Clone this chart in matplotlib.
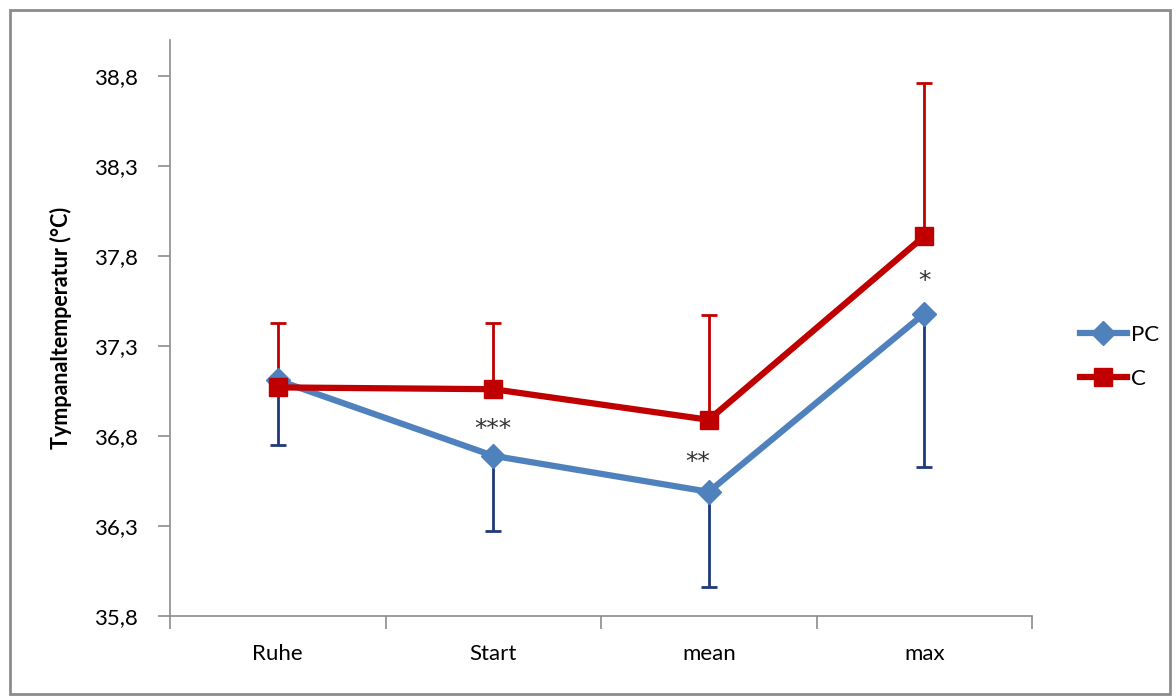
import matplotlib.pyplot as plt
from matplotlib.patches import Rectangle
from matplotlib.ticker import FixedLocator, FuncFormatter

plt.rcParams['font.family'] = ['Lato', 'DejaVu Sans']

categories = ['Ruhe', 'Start', 'mean', 'max']
pc_mean = [37.11, 36.69, 36.49, 37.48]
pc_sd = [0.36, 0.42, 0.53, 0.85]
c_mean = [37.07, 37.06, 36.89, 37.91]
c_sd = [0.36, 0.37, 0.58, 0.85]
stars = ['', '***', '**', '*']
y_ticks = [35.8, 36.3, 36.8, 37.3, 37.8, 38.3, 38.8]

fig = plt.figure(figsize=(11.76, 6.98), dpi=100)
ax = fig.add_axes([170 / 1176, 82 / 698, 862 / 1176, 576 / 698])

# outer frame of the chart
fig.patches.append(Rectangle((10 / 1176, 4 / 698), 1160 / 1176, 684 / 698,
                             transform=fig.transFigure, fill=False,
                             edgecolor='#8c8c8c', linewidth=2))

x = list(range(len(categories)))

# error bars: only downward for PC, only upward for C
ax.errorbar(x, pc_mean, yerr=[pc_sd, [0] * 4], fmt='none', ecolor='#1f3a78',
            elinewidth=2, capsize=6, capthick=2, zorder=2)
ax.errorbar(x, c_mean, yerr=[[0] * 4, c_sd], fmt='none', ecolor='#c00000',
            elinewidth=2, capsize=6, capthick=2, zorder=2)

ax.plot(x, pc_mean, color='#4f81bd', linewidth=4.5, marker='D', markersize=12,
        label='PC', zorder=3)
ax.plot(x, c_mean, color='#c00000', linewidth=4.5, marker='s', markersize=13,
        label='C', zorder=4)

for i, s in enumerate(stars):
    if s:
        y = (pc_mean[i] + c_mean[i]) / 2
        ax.text(i - (0.05 if s == '**' else 0), y - 0.035, s, ha='center', va='center',
                fontsize=18, color='#333333', family='DejaVu Sans')

ax.set_xlim(-0.5, 3.5)
ax.set_ylim(35.8, 39.0)
ax.yaxis.set_major_locator(FixedLocator(y_ticks))
ax.yaxis.set_major_formatter(FuncFormatter(lambda v, p: f'{v:.1f}'.replace('.', ',')))
ax.set_xticks(x)
ax.set_xticklabels(categories)
ax.xaxis.set_minor_locator(FixedLocator([-0.5, 0.5, 1.5, 2.5, 3.5]))
ax.tick_params(axis='x', which='major', length=0, pad=20, labelsize=16)
ax.tick_params(axis='x', which='minor', length=9, color='#8c8c8c', width=1.2)
ax.tick_params(axis='y', length=9, color='#8c8c8c', width=1.2, pad=14, labelsize=16)

for side in ['top', 'right']:
    ax.spines[side].set_visible(False)
for side in ['left', 'bottom']:
    ax.spines[side].set_color('#8c8c8c')
    ax.spines[side].set_linewidth(1.2)

ax.set_ylabel('Tympanaltemperatur (°C)', fontsize=15.5, fontweight='bold', labelpad=16)

leg = fig.legend(loc='center left', bbox_to_anchor=(1060 / 1176, 1 - 357 / 698),
                 frameon=False, fontsize=16, handlelength=2.1, labelspacing=1.1,
                 handletextpad=0.2)

fig.savefig('out.png', dpi=100)
